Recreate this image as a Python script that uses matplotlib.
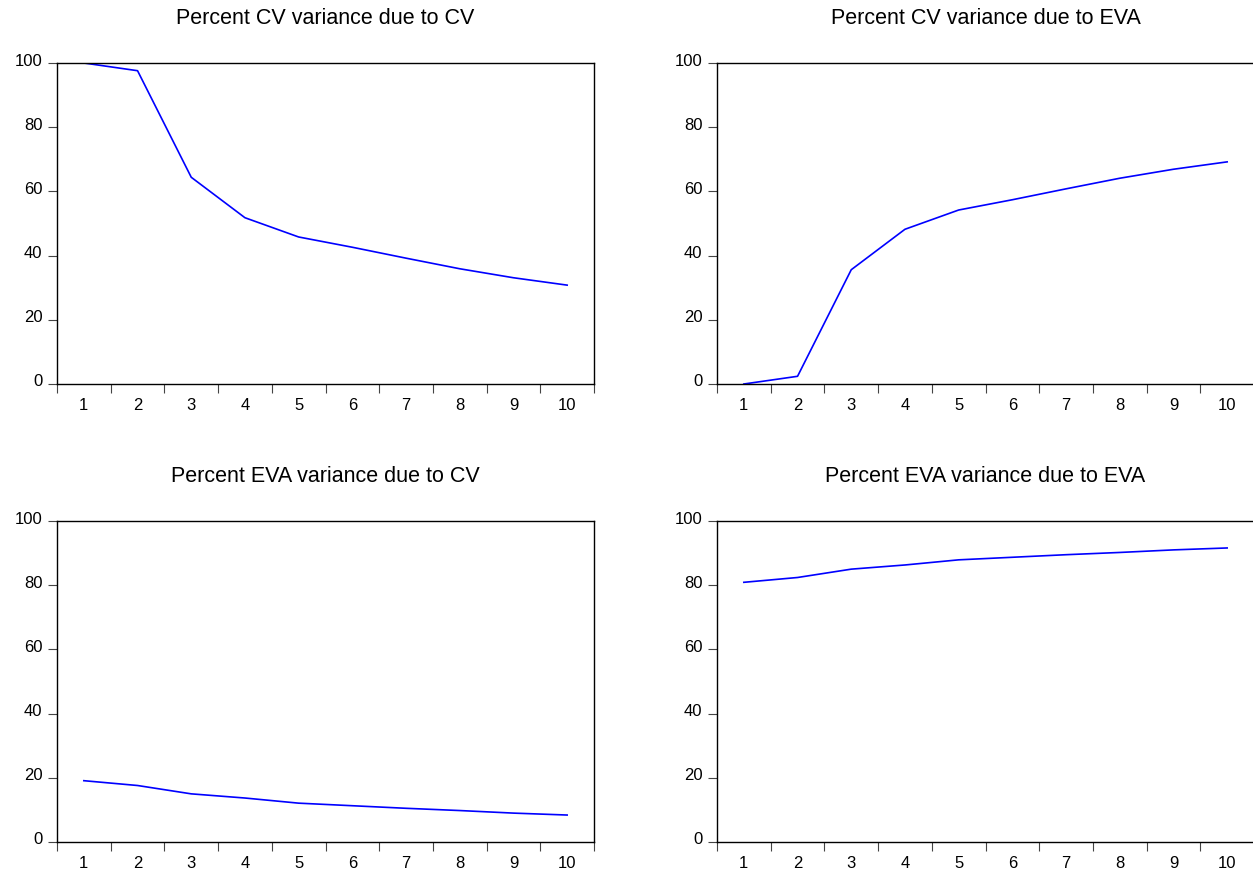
import matplotlib
matplotlib.use("Agg")
import matplotlib.pyplot as plt
import matplotlib.transforms as mtransforms
import numpy as np

plt.rcParams['font.family'] = ['Liberation Sans', 'DejaVu Sans']

periods = [1, 2, 3, 4, 5, 6, 7, 8, 9, 10]
cv_due_cv = [100.0, 97.6, 64.4, 51.8, 45.8, 42.6, 39.2, 35.9, 33.1, 30.8]
cv_due_eva = [0.0, 2.4, 35.6, 48.2, 54.2, 57.4, 60.8, 64.1, 66.9, 69.2]
eva_due_cv = [19.1, 17.6, 15.0, 13.7, 12.1, 11.3, 10.5, 9.8, 9.0, 8.4]
eva_due_eva = [80.9, 82.4, 85.0, 86.3, 87.9, 88.7, 89.5, 90.2, 91.0, 91.6]

titles = ["Percent CV variance due to CV", "Percent CV variance due to EVA",
          "Percent EVA variance due to CV", "Percent EVA variance due to EVA"]
series = [cv_due_cv, cv_due_eva, eva_due_cv, eva_due_eva]

W, H = 1253, 875
fig = plt.figure(figsize=(W / 100, H / 100), dpi=100)

# axes boxes in pixels: left, top
boxes = [(57, 63), (717, 63), (57, 521), (717, 521)]
bw, bh = 537, 321

for (lx, ty), title, vals in zip(boxes, titles, series):
    ax = fig.add_axes([lx / W, 1 - (ty + bh) / H, bw / W, bh / H])
    ax.plot(periods, vals, color='#0000ff', linewidth=1.2)
    ax.set_xlim(0.5, 10.5)
    ax.set_ylim(0, 100)
    ax.set_title(title, fontsize=15.5, pad=28)

    ax.set_yticks([0, 20, 40, 60, 80, 100])
    ax.tick_params(axis='y', direction='out', length=6.5, width=0.8, pad=4,
                   labelsize=12, color='#444444')
    for lab in ax.get_yticklabels():
        lab.set_transform(lab.get_transform() +
                          mtransforms.ScaledTranslation(0, 0.035, fig.dpi_scale_trans))

    ax.set_xticks(np.arange(0.5, 11, 1))
    ax.set_xticklabels([])
    ax.set_xticks(periods, minor=True)
    ax.set_xticklabels([str(p) for p in periods], minor=True)
    ax.tick_params(axis='x', which='major', direction='out', length=6.5, width=0.8,
                   color='#444444')
    ax.tick_params(axis='x', which='minor', length=0, pad=10, labelsize=12)

    for sp in ax.spines.values():
        sp.set_linewidth(1.0)
        sp.set_color('black')

fig.savefig("out.png", dpi=100)
